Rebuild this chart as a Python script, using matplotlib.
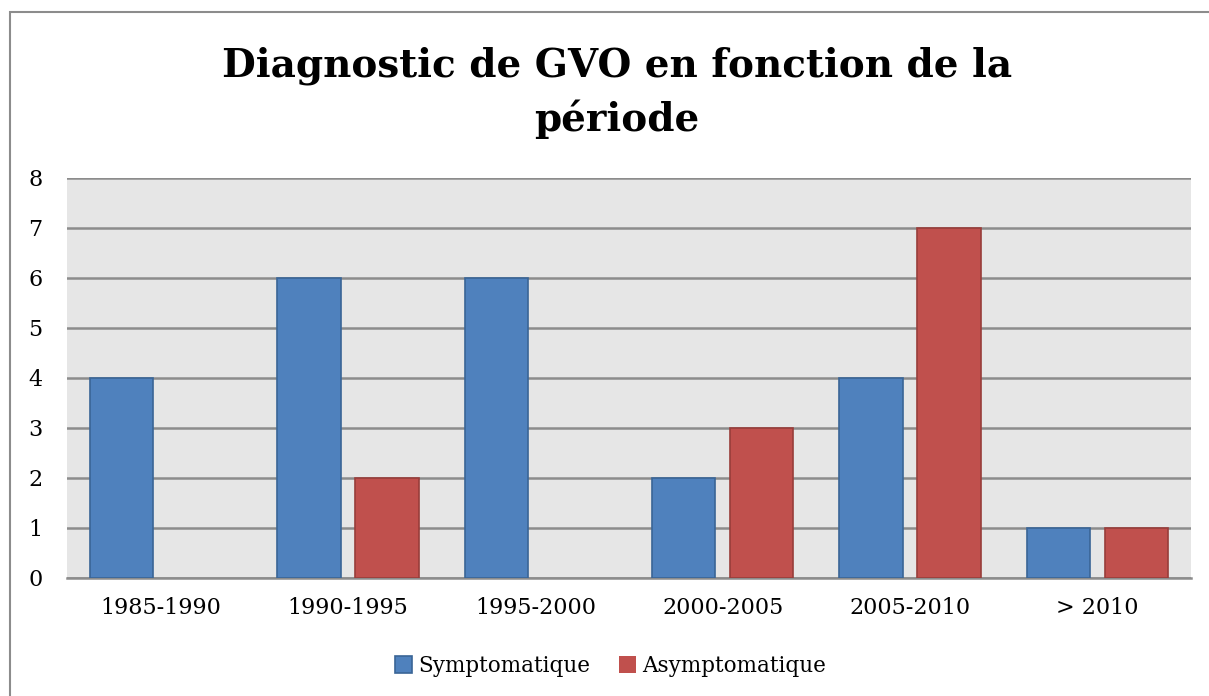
import numpy as np
import matplotlib.pyplot as plt
from matplotlib.patches import Rectangle

# data
periods = ['1985-1990', '1990-1995', '1995-2000', '2000-2005', '2005-2010', '> 2010']
symptomatique = [4, 6, 6, 2, 4, 1]
asymptomatique = [0, 2, 0, 3, 7, 1]

plt.rcParams['font.family'] = ['DejaVu Serif']

fig = plt.figure(figsize=(12.09, 6.96), dpi=100)
ax = fig.add_axes([67 / 1209, 1 - 578 / 696, (1191 - 67) / 1209, 400 / 696])

x = np.arange(len(periods))
w = 0.337
off = 0.208
b1 = ax.bar(x - off, symptomatique, w, color='#4f81bd', edgecolor='#3a6596',
            linewidth=1.2, label='Symptomatique', zorder=3)
b2 = ax.bar(x + off, asymptomatique, w, color='#c0504d', edgecolor='#983d3a',
            linewidth=1.2, label='Asymptomatique', zorder=3)
# empty bars show no outline
for bars in (b1, b2):
    for p in bars:
        if p.get_height() == 0:
            p.set_edgecolor('none')

ax.set_facecolor('#e6e6e6')
ax.set_xlim(-0.5, len(periods) - 0.5)
ax.set_ylim(0, 8)
ax.set_yticks(range(9))
ax.yaxis.grid(True, color='#8c8c8c', linewidth=1.8, zorder=1)
ax.set_axisbelow(True)
for s in ['top', 'right', 'left']:
    ax.spines[s].set_visible(False)
ax.spines['bottom'].set_color('#8c8c8c')
ax.spines['bottom'].set_linewidth(1.8)
ax.set_xticks(x)
ax.set_xticklabels(periods)
ax.tick_params(axis='both', length=0, labelsize=16)
ax.tick_params(axis='x', pad=14)
for lab in ax.get_yticklabels():
    lab.set_horizontalalignment('left')
ax.tick_params(axis='y', pad=28)

fig.text(0.51, 1 - 93 / 696, 'Diagnostic de GVO en fonction de la\npériode',
         ha='center', va='center', fontsize=28, fontweight='bold',
         linespacing=1.45)

leg = fig.legend(loc='center', bbox_to_anchor=(0.505, 1 - 666 / 696), ncol=2,
                 frameon=False, fontsize=15.5, handlelength=0.8, handleheight=0.8,
                 handletextpad=0.3, columnspacing=1.3)

# outer chart border
fig.patches.append(Rectangle((10 / 1209, -0.1), 1.2, 1 - 12 / 696 + 0.1,
                             transform=fig.transFigure, fill=False,
                             edgecolor='#8c8c8c', linewidth=1.5))

fig.savefig('out.png', dpi=100)
